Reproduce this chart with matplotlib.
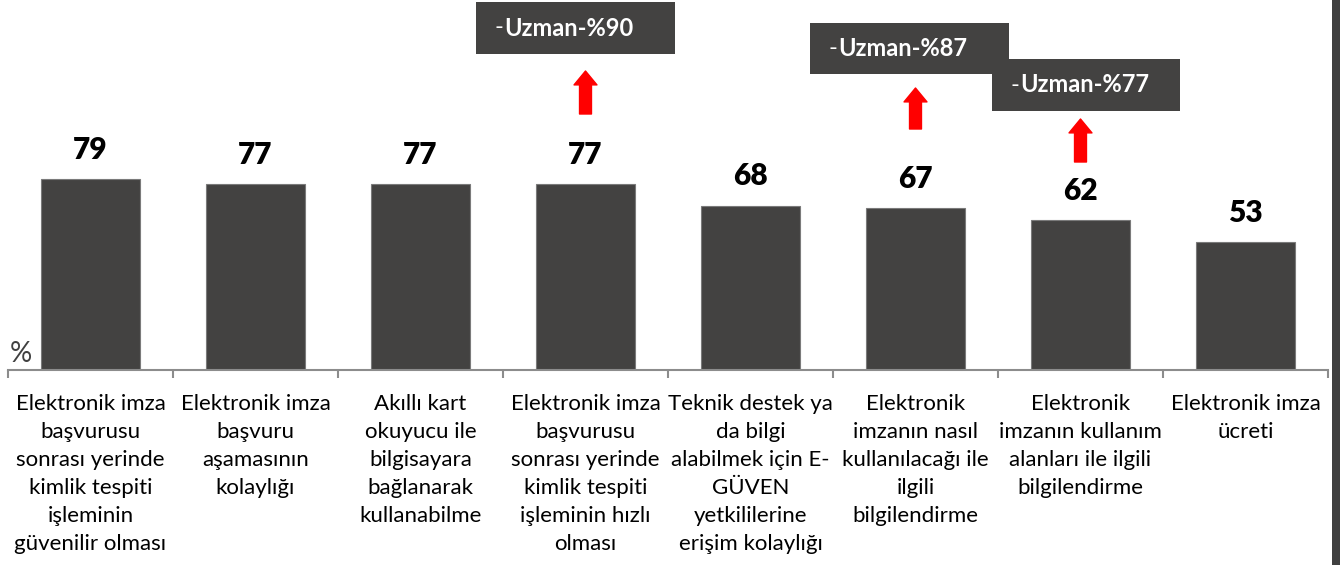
import matplotlib
matplotlib.use("Agg")
import matplotlib.pyplot as plt
from matplotlib.patches import Rectangle

plt.rcParams['font.family'] = ['Lato', 'DejaVu Sans']

categories = [
    "Elektronik imza\nbaşvurusu\nsonrası yerinde\nkimlik tespiti\nişleminin\ngüvenilir olması",
    "Elektronik imza\nbaşvuru\naşamasının\nkolaylığı",
    "Akıllı kart\nokuyucu ile\nbilgisayara\nbağlanarak\nkullanabilme",
    "Elektronik imza\nbaşvurusu\nsonrası yerinde\nkimlik tespiti\nişleminin hızlı\nolması",
    "Teknik destek ya\nda bilgi\nalabilmek için E-\nGÜVEN\nyetkililerine\nerişim kolaylığı",
    "Elektronik\nimzanın nasıl\nkullanılacağı ile\nilgili\nbilgilendirme",
    "Elektronik\nimzanın kullanım\nalanları ile ilgili\nbilgilendirme",
    "Elektronik imza\nücreti",
]
values = [79, 77, 77, 77, 68, 67, 62, 53]

# expert annotations: (category index, expert value)
expert_idx = [3, 5, 6]
expert_vals = [90, 87, 77]

BAR = '#434241'
W, H = 1340, 565
fig = plt.figure(figsize=(W / 100, H / 100), dpi=100)
fig.patch.set_facecolor('white')
ax = fig.add_axes([8 / W, (H - 370) / H, 1320 / W, 370 / H])
ax.set_facecolor('none')

x = list(range(len(values)))
ax.bar(x, values, width=0.595, color=BAR, edgecolor='#7a7a7a', linewidth=0.8, zorder=2)
ax.set_xlim(-0.5, len(values) - 0.5)
ax.set_ylim(0, 153)

for xi, v in zip(x, values):
    ax.annotate(str(v), (xi, v), xytext=(0, 14.5), textcoords='offset points',
                ha='center', va='baseline', fontsize=21.5, fontweight='heavy', color='black')

for s in ['top', 'left', 'right']:
    ax.spines[s].set_visible(False)
ax.spines['bottom'].set_color('#8c8c8c')
ax.spines['bottom'].set_linewidth(1.5)
ax.set_yticks([])
ax.set_xticks(x)
ax.set_xticklabels(categories, fontsize=16, color='black', linespacing=1.5, va='top')
ax.tick_params(axis='x', which='major', length=0, pad=17)
ax.set_xticks([i - 0.5 for i in range(len(values) + 1)], minor=True)
ax.tick_params(axis='x', which='minor', length=6, width=1.5, color='#8c8c8c', direction='out')

ax.text(10 / W, (H - 354) / H, '%', transform=fig.transFigure, fontsize=20,
        color='#404040', ha='left', va='center')

# annotation boxes (pixel geometry -> data coords)
def py2d(py):
    return (370 - py) / 370 * 153

def px2d(px):
    return (px - 8) / 165 - 0.5

boxes = [(476, 675, 2, 54), (810, 1009, 23, 74), (992, 1180, 59, 111)]
arrows = [(71, 114), (88, 129), (119, 162)]
for (i, ev), (bx0, bx1, by0, by1), (ay0, ay1) in zip(zip(expert_idx, expert_vals), boxes, arrows):
    x0, x1 = px2d(bx0), px2d(bx1)
    y0, y1 = py2d(by1), py2d(by0)
    ax.add_patch(Rectangle((x0, y0), x1 - x0, y1 - y0, facecolor=BAR, edgecolor='none',
                           zorder=5, clip_on=False))
    tx = px2d(bx0 + 19)
    t1 = ax.text(tx, (y0 + y1) / 2, '-', color='white', fontsize=17, ha='left',
                 va='center', zorder=6)
    ax.annotate('Uzman-%' + str(ev), xy=(1, 0.5), xycoords=t1, xytext=(0, 0),
                textcoords='offset points', color='white', fontsize=17,
                fontweight='bold', ha='left', va='center', zorder=6)
    ax.annotate('', xy=(i, py2d(ay0)), xytext=(i, py2d(ay1)),
                arrowprops=dict(arrowstyle='simple,head_length=1.0,head_width=1.65,tail_width=0.86',
                                color='red', mutation_scale=10, shrinkA=0, shrinkB=0),
                zorder=6, annotation_clip=False)

fig.patches.append(Rectangle((1332 / W, 0), 8 / W, 1, transform=fig.transFigure,
                             facecolor='#404040', edgecolor='none', zorder=10))

fig.savefig('out.png', dpi=100)
